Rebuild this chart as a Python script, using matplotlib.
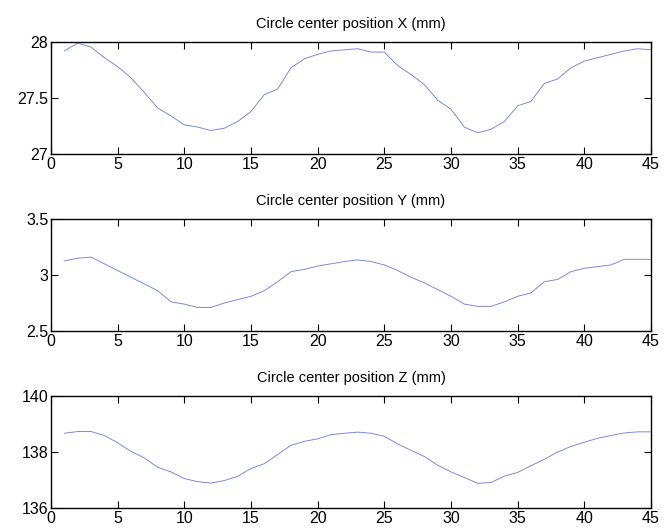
import numpy as np
import matplotlib
matplotlib.use("Agg")
import matplotlib.pyplot as plt

plt.rcParams['font.family'] = ['Liberation Sans', 'DejaVu Sans']

# sample index 1..45
idx = np.arange(1, 46)

pos_x = [27.92, 27.99, 27.955, 27.86, 27.78, 27.68, 27.55, 27.41, 27.34, 27.26,
         27.24, 27.21, 27.23, 27.29, 27.38, 27.53, 27.58, 27.77, 27.85, 27.89,
         27.92, 27.93, 27.94, 27.91, 27.91, 27.79, 27.71, 27.62, 27.48, 27.40,
         27.24, 27.19, 27.22, 27.29, 27.43, 27.47, 27.63, 27.67, 27.77, 27.83,
         27.86, 27.89, 27.92, 27.94, 27.93]

pos_y = [3.126, 3.15, 3.16, 3.10, 3.04, 2.98, 2.92, 2.86, 2.76, 2.74,
         2.71, 2.71, 2.75, 2.78, 2.81, 2.86, 2.94, 3.03, 3.05, 3.08,
         3.10, 3.12, 3.135, 3.12, 3.09, 3.04, 2.98, 2.93, 2.87, 2.81,
         2.74, 2.72, 2.72, 2.76, 2.81, 2.84, 2.94, 2.96, 3.03, 3.06,
         3.075, 3.09, 3.14, 3.14, 3.14]

pos_z = [138.67, 138.73, 138.73, 138.59, 138.33, 138.02, 137.79, 137.45, 137.29, 137.05,
         136.94, 136.89, 136.98, 137.13, 137.41, 137.58, 137.91, 138.24, 138.38, 138.47,
         138.62, 138.67, 138.71, 138.67, 138.56, 138.29, 138.06, 137.84, 137.53, 137.29,
         137.09, 136.88, 136.91, 137.14, 137.27, 137.51, 137.74, 138.00, 138.20, 138.35,
         138.49, 138.59, 138.68, 138.72, 138.72]

titles = ["Circle center position X (mm)",
          "Circle center position Y (mm)",
          "Circle center position Z (mm)"]
ylims = [(27, 28), (2.5, 3.5), (136, 140)]
yticks = [[27, 27.5, 28], [2.5, 3, 3.5], [136, 138, 140]]
yticklabels = [["27", "27.5", "28"], ["2.5", "3", "3.5"], ["136", "138", "140"]]

fig = plt.figure(figsize=(6.64, 5.29), dpi=100)
bottoms = [0.7089, 0.3743, 0.0397]
series = [pos_x, pos_y, pos_z]

for i in range(3):
    ax = fig.add_axes([0.0768, bottoms[i], 0.9036, 0.2117])
    ax.plot(idx, series[i], color='#7383d8', lw=0.65)
    ax.set_xlim(0, 45)
    ax.set_ylim(*ylims[i])
    ax.set_xticks(range(0, 46, 5))
    ax.set_yticks(yticks[i])
    ax.set_yticklabels(yticklabels[i])
    ax.set_title(titles[i], fontsize=10.5, pad=10)
    ax.tick_params(direction='in', top=True, right=True, length=5, width=0.8,
                   labelsize=11.5, pad=2)
    for s in ax.spines.values():
        s.set_linewidth(1.0)

fig.savefig("out.png", dpi=100)
